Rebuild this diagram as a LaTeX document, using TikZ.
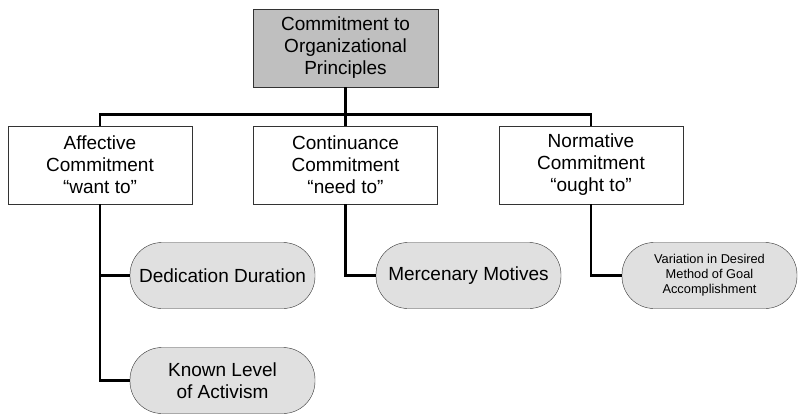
\documentclass[tikz,border=0pt]{standalone}
\usepackage{fontspec}
\setmainfont{Liberation Sans}
\usepackage{tikz}
\usetikzlibrary{shapes.geometric, arrows}
\tikzstyle{topbox} = [rectangle, minimum width=185pt, minimum height=78pt, text centered, align=center, draw=black!80, fill=black!25, font=\fontsize{19}{22}\selectfont]
\tikzstyle{level} = [rectangle, minimum width=184pt, minimum height=78pt, text centered, align=center, draw=black!80, fill=white, font=\fontsize{19}{22}\selectfont]
\tikzstyle{pill} = [rectangle, rounded corners=32pt, minimum width=185pt, minimum height=66pt, text centered, align=center, draw=black!80, fill=black!12, font=\fontsize{19}{22}\selectfont]
\tikzstyle{smallpill} = [pill, minimum width=175pt, font=\fontsize{12.8}{15}\selectfont]
\tikzstyle{conn} = [line width=2.8pt, black]

\begin{document}
\begin{tikzpicture}[node distance=117pt]
	\useasboundingbox (0,0) rectangle (798pt,-415pt);
	\node (principles) [topbox] at (345.5pt,-48pt) {Commitment to\\Organizational\\Principles};
	\node (affective) [level, below of=principles, xshift=-245.5pt] {Affective\\Commitment\\“want to”};
	\node (continuance) [level, below of=principles] {Continuance\\Commitment\\“need to”};
	\node (normative) [level, below of=principles, xshift=245.5pt] {Normative\\Commitment\\“ought to”};
	\node (dedication) [pill, below of=affective, node distance=110.5pt, xshift=122.5pt] {Dedication Duration};
	\node (known) [pill, below of=dedication, node distance=105pt] {Known Level\\of Activism};
	\node (mercenary) [pill, below of=continuance, node distance=110.5pt, xshift=123pt] {Mercenary Motives};
	\node (variation) [smallpill, below of=normative, node distance=110.5pt, xshift=118.5pt] {Variation in Desired\\Method of Goal\\Accomplishment};

	\draw [conn] (principles.south) -- (continuance.north);
	\draw [conn] (affective.north) -- ++(0,11pt) -| (normative.north);
	\draw [conn] (affective.south) |- (dedication.west);
	\draw [conn] (affective.south) |- (known.west);
	\draw [conn] (continuance.south) |- (mercenary.west);
	\draw [conn] (normative.south) |- (variation.west);
\end{tikzpicture}
\end{document}
